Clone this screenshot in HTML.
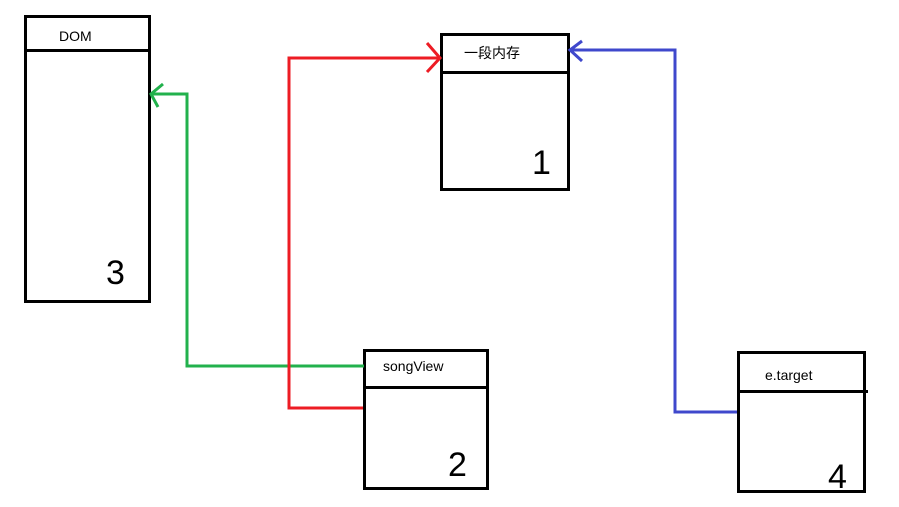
<!DOCTYPE html>
<html><head><meta charset="utf-8"><style>
html,body{margin:0;padding:0;background:#fff;}
svg{display:block}
text{font-family:"Liberation Sans","Noto Sans CJK SC",sans-serif;}
</style></head><body>
<svg width="899" height="507" viewBox="0 0 899 507" xmlns="http://www.w3.org/2000/svg">
<g fill="none" stroke="#000" stroke-width="3">
<rect x="25.5" y="16.5" width="124" height="285"/>
<line x1="25" y1="50.5" x2="150" y2="50.5"/>
<rect x="441.5" y="34.5" width="127" height="155"/>
<line x1="441" y1="72.5" x2="569" y2="72.5"/>
<rect x="364.5" y="350.5" width="123" height="138"/>
<line x1="364" y1="387.5" x2="488" y2="387.5"/>
<rect x="738.5" y="352.5" width="126" height="139"/>
<line x1="738" y1="391.5" x2="868" y2="391.5"/>
</g>
<g fill="none" stroke-width="3">
<polyline stroke="#22b14c" points="364,366 187,366 187,94 151,94"/>
<polyline stroke="#22b14c" points="163,84 151,94 158,107"/>
<polyline stroke="#ed1c24" points="363,408 289,408 289,58 440,58"/>
<polyline stroke="#ed1c24" points="427,43 440,58 427,72"/>
<polyline stroke="#3f48cc" points="737,412 675,412 675,50 570,50"/>
<polyline stroke="#3f48cc" points="582,41 570,50 582,61"/>
</g>
<g font-size="14" fill="#000">
<text x="59" y="41">DOM</text>
<text x="464" y="58">一段内存</text>
<text x="383" y="371">songView</text>
<text x="765" y="380">e.target</text>
</g>
<g font-size="34" fill="#000" font-weight="normal" font-family="DejaVu Sans" style="font-weight:200">
<text x="106" y="284">3</text>
<text x="532" y="174">1</text>
<text x="448" y="476">2</text>
<text x="828" y="488">4</text>
</g>
</svg>
</body></html>
